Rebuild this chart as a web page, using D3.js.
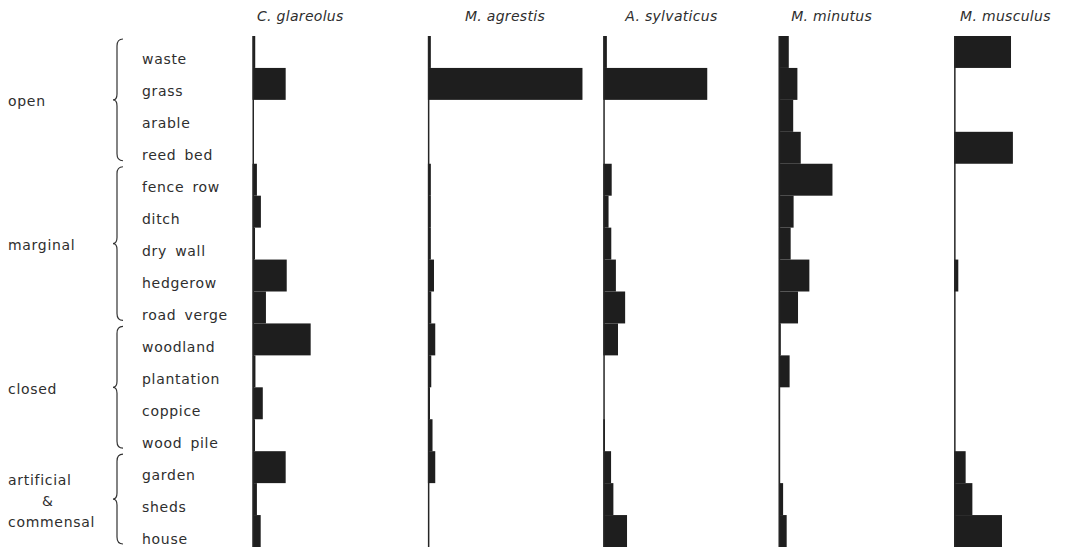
<!DOCTYPE html>
<html>
<head>
<meta charset="utf-8">
<script src="https://cdn.jsdelivr.net/npm/d3@7"></script>
<style>
  html, body { margin: 0; padding: 0; background: #fff; }
  svg text { font-family: "DejaVu Sans", sans-serif; fill: #2e2e2e; }
</style>
</head>
<body>
<svg id="chart" width="1088" height="551"></svg>
<script>
// Species (one panel each) and habitat rows
const species = ["C. glareolus", "M. agrestis", "A. sylvaticus", "M. minutus", "M. musculus"];
const habitats = ["waste", "grass", "arable", "reed bed",
                  "fence row", "ditch", "dry wall", "hedgerow", "road verge",
                  "woodland", "plantation", "coppice", "wood pile",
                  "garden", "sheds", "house"];

// Habitat groups: label lines, first and last habitat covered by the brace
const groupLabels = [["open"], ["marginal"], ["closed"], ["artificial", "&", "commensal"]];
const groupFirst = ["waste", "fence row", "woodland", "garden"];
const groupLast = ["reed bed", "road verge", "wood pile", "house"];

// Percentage of records in each habitat, in habitat order
const glareolus  = [1.3, 15.8, 0, 0, 2.1, 4.0, 1.2, 16.3, 6.4, 27.7, 1.4, 4.9, 1.2, 15.8, 2.1, 3.9];
const agrestis   = [1.4, 73.6, 0, 0, 1.4, 1.4, 1.4, 2.9, 1.6, 3.5, 1.6, 1.0, 2.2, 3.5, 0, 0];
const sylvaticus = [1.7, 49.5, 0, 0, 4.0, 2.5, 3.8, 6.0, 10.4, 7.0, 0, 0, 0.8, 3.7, 4.8, 11.3];
const minutus    = [4.8, 8.9, 6.9, 10.5, 25.6, 7.1, 5.7, 14.6, 9.2, 1.0, 5.2, 0.5, 0.5, 0.6, 2.1, 3.8];
const musculus   = [27.1, 0, 0, 28.0, 0, 0, 0, 2.0, 0, 0, 0, 0, 0, 5.5, 8.7, 22.8];

const series = [glareolus, agrestis, sylvaticus, minutus, musculus];

const svg = d3.select("#chart");

const y = d3.scaleBand().domain(habitats).range([36, 547]).padding(0);
const panelX = d3.scalePoint().domain(species).range([252.5, 954.1]);
const x = d3.scaleLinear().domain([0, 100]).range([0, 210]);

const barColor = "#1e1e1e";
const titleShift = [4.5, 37, 22, 12.5, 6];

// Panels: bars, baseline, species name
species.forEach((sp, i) => {
  const g = svg.append("g").attr("transform", `translate(${panelX(sp)},0)`);
  const rows = habitats.map((h, j) => ({ h, v: series[i][j] })).filter(d => d.v > 0);
  g.selectAll("rect")
    .data(rows)
    .join("rect")
    .attr("x", 0)
    .attr("y", d => y(d.h))
    .attr("width", d => x(d.v))
    .attr("height", y.bandwidth())
    .attr("fill", barColor);
  g.append("line")
    .attr("x1", 0.75).attr("x2", 0.75)
    .attr("y1", y.range()[0]).attr("y2", y.range()[1])
    .attr("stroke", "#252525")
    .attr("stroke-width", 1.5);
  g.append("text")
    .attr("x", titleShift[i])
    .attr("y", 21)
    .attr("font-style", "italic")
    .attr("font-size", 14)
    .attr("letter-spacing", 0.3)
    .text(sp);
});

// Habitat labels
const axis = svg.append("g")
  .attr("transform", "translate(142,8)")
  .call(d3.axisLeft(y).tickSize(0).tickPadding(0));
axis.select(".domain").remove();
axis.selectAll("text")
  .attr("x", 0)
  .attr("text-anchor", "start")
  .attr("font-size", 14)
  .attr("letter-spacing", 0.7)
  .attr("word-spacing", 3)
  .attr("font-family", "DejaVu Sans")
  .attr("fill", "#2e2e2e");

// Group braces and group names
const braceX = 117;
groupLabels.forEach((lines, k) => {
  const top = y(groupFirst[k]) + 3;
  const bot = y(groupLast[k]) + y.bandwidth() - 3;
  const mid = (top + bot) / 2;
  const p = d3.path();
  p.moveTo(braceX + 6, top);
  p.quadraticCurveTo(braceX, top, braceX, top + 7);
  p.lineTo(braceX, mid - 6);
  p.quadraticCurveTo(braceX, mid, braceX - 4, mid);
  p.quadraticCurveTo(braceX, mid, braceX, mid + 6);
  p.lineTo(braceX, bot - 7);
  p.quadraticCurveTo(braceX, bot, braceX + 6, bot);
  svg.append("path")
    .attr("d", p.toString())
    .attr("fill", "none")
    .attr("stroke", "#333")
    .attr("stroke-width", 1.2);

  const lineGap = 21;
  lines.forEach((t, m) => {
    svg.append("text")
      .attr("x", t === "&" ? 42 : 8)
      .attr("y", mid + 2 + (m - (lines.length - 1) / 2) * lineGap)
      .attr("dy", "0.32em")
      .attr("font-size", 14)
      .attr("letter-spacing", 0.7)
      .text(t);
  });
});
</script>
</body>
</html>
